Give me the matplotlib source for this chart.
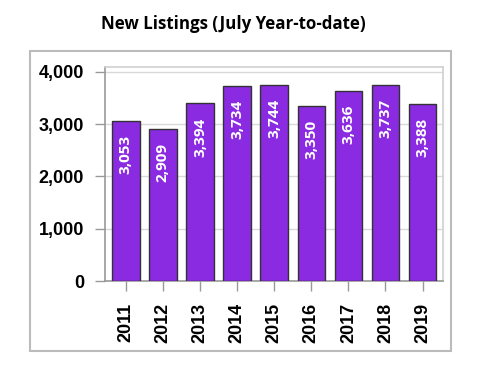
import matplotlib
matplotlib.use("Agg")
import matplotlib.pyplot as plt
from matplotlib.patches import Rectangle

years = ["2011", "2012", "2013", "2014", "2015", "2016", "2017", "2018", "2019"]
values = [3053, 2909, 3394, 3734, 3744, 3350, 3636, 3737, 3388]
yticks = [0, 1000, 2000, 3000, 4000]
title = "New Listings (July Year-to-date)"

W, H = 480, 371
fig = plt.figure(figsize=(W / 100, H / 100), dpi=100)
ax = fig.add_axes([105 / W, 1 - 281 / H, (443 - 105) / W, (281 - 67) / H])

x = list(range(len(years)))
ax.bar(x, values, width=0.74, color="#8A2BE2", edgecolor="#333333", linewidth=1.0, zorder=3)

for xi, v in zip(x, values):
    ax.annotate(f"{v:,}", xy=(xi, v), xytext=(0, -10), textcoords="offset points",
                rotation=90, ha="center", va="top", color="white",
                fontsize=11, fontfamily="Open Sans", fontweight="bold", zorder=4)

ax.set_xlim(-0.56, 8.55)
ax.set_ylim(0, 4090)
ax.set_xticks(x)
ax.set_xticklabels(years, rotation=90, fontsize=13, fontweight="bold", fontfamily="Liberation Sans")
ax.set_yticks(yticks)
ax.set_yticklabels([f"{t:,}" for t in yticks], fontsize=13, fontweight="bold", fontfamily="Liberation Sans")
ax.tick_params(axis="both", length=7, width=1, color="#999999", pad=8)
ax.tick_params(axis="x", pad=9)

ax.yaxis.grid(True, color="#D9D9D9", linewidth=1, zorder=0)
ax.set_axisbelow(True)
for s in ["left", "bottom"]:
    ax.spines[s].set_color("#999999")
    ax.spines[s].set_linewidth(1.2)
for s in ["top", "right"]:
    ax.spines[s].set_color("#D0D0D0")
    ax.spines[s].set_linewidth(1.2)

fig.patches.append(Rectangle((30 / W, 1 - 351 / H), (451 - 30) / W, (351 - 51) / H,
                             transform=fig.transFigure, fill=False,
                             edgecolor="#BBBBBB", linewidth=1.5))

fig.text(233 / W, 1 - 24 / H, title, ha="center", va="center", fontsize=12.2,
         fontweight="bold", fontfamily="Open Sans")

fig.savefig("out.png", dpi=100)
